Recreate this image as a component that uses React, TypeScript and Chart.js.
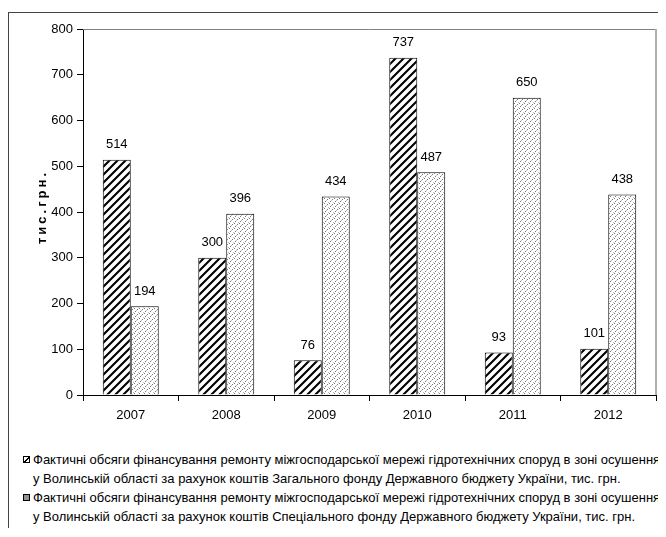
import React, { useEffect, useRef } from "react";
import { Chart, registerables } from "chart.js";

Chart.register(...registerables);

const years = ["2007", "2008", "2009", "2010", "2011", "2012"];
const generalFund = [514, 300, 76, 737, 93, 101];
const specialFund = [194, 396, 434, 487, 650, 438];
const yTicks = [0, 100, 200, 300, 400, 500, 600, 700, 800];
const yTitle = "тис.грн.";
const legendGeneral = [
  "Фактичні обсяги фінансування ремонту міжгосподарської мережі гідротехнічних споруд в зоні осушення",
  "у Волинській області за рахунок коштів Загального фонду Державного бюджету України, тис. грн.",
];
const legendSpecial = [
  "Фактичні обсяги фінансування ремонту міжгосподарської мережі гідротехнічних споруд в зоні осушення",
  "у Волинській області за рахунок коштів Спеціального фонду Державного бюджету України, тис. грн.",
];

const FONT = "'Liberation Sans', Arial, sans-serif";

function makeHatch(): CanvasPattern | string {
  const c = document.createElement("canvas");
  const s = 8;
  c.width = s;
  c.height = s;
  const ctx = c.getContext("2d");
  if (!ctx) return "#000";
  ctx.fillStyle = "#fff";
  ctx.fillRect(0, 0, s, s);
  ctx.strokeStyle = "#000";
  ctx.lineWidth = 2.1;
  ctx.beginPath();
  for (const o of [-s, 0, s]) {
    ctx.moveTo(o - 1, s + 1);
    ctx.lineTo(o + s + 1, -1);
  }
  ctx.stroke();
  return ctx.createPattern(c, "repeat") || "#000";
}

function makeDots(): CanvasPattern | string {
  const c = document.createElement("canvas");
  const s = 5;
  c.width = s;
  c.height = s;
  const ctx = c.getContext("2d");
  if (!ctx) return "#ddd";
  ctx.fillStyle = "#fff";
  ctx.fillRect(0, 0, s, s);
  ctx.fillStyle = "#777";
  ctx.fillRect(0, 0, 1, 1);
  ctx.fillRect(3, 1, 1, 1);
  ctx.fillRect(1, 3, 1, 1);
  ctx.fillStyle = "#bbb";
  ctx.fillRect(4, 4, 1, 1);
  ctx.fillRect(2, 2, 1, 1);
  return ctx.createPattern(c, "repeat") || "#ddd";
}

const extrasPlugin = {
  id: "extras",
  afterDatasetsDraw(chart: any) {
    const ctx = chart.ctx;
    const area = chart.chartArea;
    ctx.save();
    // plot area border (top + right)
    ctx.strokeStyle = "#808080";
    ctx.lineWidth = 1;
    ctx.beginPath();
    ctx.moveTo(area.left, area.top + 0.5);
    ctx.lineTo(area.right, area.top + 0.5);
    ctx.stroke();
    ctx.strokeStyle = "#b0b0b0";
    ctx.lineWidth = 2;
    ctx.beginPath();
    ctx.moveTo(area.right, area.top);
    ctx.lineTo(area.right, area.bottom);
    ctx.stroke();
    // value labels
    ctx.fillStyle = "#000";
    ctx.font = `13px ${FONT}`;
    ctx.textAlign = "center";
    ctx.textBaseline = "middle";
    chart.data.datasets.forEach((ds: any, i: number) => {
      const meta = chart.getDatasetMeta(i);
      meta.data.forEach((bar: any, j: number) => {
        ctx.fillText(String(ds.data[j]), bar.x, bar.y - 15);
      });
    });
    // y axis title
    ctx.font = `bold 13px ${FONT}`;
    try {
      (ctx as any).letterSpacing = "3px";
    } catch (e) {
      /* ignore */
    }
    ctx.translate(33, 194);
    ctx.rotate(-Math.PI / 2);
    ctx.fillText(yTitle, 0, 0);
    ctx.restore();
  },
};

export default function App() {
  const ref = useRef<HTMLCanvasElement>(null);

  useEffect(() => {
    document.documentElement.style.overflow = "hidden";
    if (!ref.current) return;
    const hatch = makeHatch();
    const dots = makeDots();
    const chart = new Chart(ref.current, {
      type: "bar",
      data: {
        labels: years,
        datasets: [
          {
            label: legendGeneral.join(" "),
            data: generalFund,
            backgroundColor: hatch as any,
            borderColor: "#000",
            borderWidth: 1,
            categoryPercentage: 0.586,
            barPercentage: 1,
          },
          {
            label: legendSpecial.join(" "),
            data: specialFund,
            backgroundColor: dots as any,
            borderColor: "#000",
            borderWidth: 1,
            categoryPercentage: 0.586,
            barPercentage: 1,
          },
        ],
      },
      options: {
        responsive: false,
        animation: false,
        devicePixelRatio: 1,
        layout: { padding: { left: 0, top: 16, right: 10, bottom: 0 } },
        plugins: {
          legend: { display: false },
          tooltip: { enabled: false },
        },
        scales: {
          x: {
            afterFit: (s: any) => {
              s.height = 43;
            },
            grid: {
              display: true,
              offset: true,
              drawOnChartArea: false,
              drawTicks: true,
              tickLength: 6,
              color: "#000",
            },
            border: { color: "#000", width: 1 },
            ticks: {
              color: "#000",
              padding: 7,
              font: { family: FONT, size: 13 },
            },
          },
          y: {
            min: 0,
            max: 800,
            afterFit: (s: any) => {
              s.width = 74;
            },
            afterBuildTicks: (s: any) => {
              s.ticks = yTicks.map((v) => ({ value: v }));
            },
            grid: {
              display: true,
              drawOnChartArea: false,
              drawTicks: true,
              tickLength: 6,
              color: "#000",
            },
            border: { color: "#000", width: 1 },
            ticks: {
              color: "#000",
              padding: 4,
              font: { family: FONT, size: 13 },
            },
          },
        },
      },
      plugins: [extrasPlugin],
    });
    return () => chart.destroy();
  }, []);

  const legendText: React.CSSProperties = {
    fontFamily: FONT,
    fontSize: "13px",
    lineHeight: "19px",
    color: "#000",
    whiteSpace: "nowrap",
    paddingLeft: 24,
    position: "relative",
  };
  const swatch: React.CSSProperties = {
    position: "absolute",
    left: 14,
    top: 6,
    width: 5,
    height: 5,
    border: "1px solid #000",
  };

  return (
    <div
      style={{
        position: "relative",
        marginTop: 4,
        width: 657,
        height: 515,
        borderLeft: "1px solid #444",
        borderTop: "1px solid #444",
      }}
    >
      <canvas ref={ref} width={657} height={425} style={{ display: "block" }} />
      <div style={{ position: "absolute", left: 0, top: 437 }}>
        <div style={legendText}>
          <span
            style={{
              ...swatch,
              background:
                "linear-gradient(135deg, #fff 0%, #fff 40%, #000 40%, #000 60%, #fff 60%, #fff 100%)",
            }}
          />
          {legendGeneral[0]}
          <br />
          {legendGeneral[1]}
        </div>
        <div style={legendText}>
          <span
            style={{
              ...swatch,
              background: "radial-gradient(circle, #555 0.6px, #fff 0.9px) 0 0 / 2px 2px",
            }}
          />
          {legendSpecial[0]}
          <br />
          {legendSpecial[1]}
        </div>
      </div>
    </div>
  );
}
